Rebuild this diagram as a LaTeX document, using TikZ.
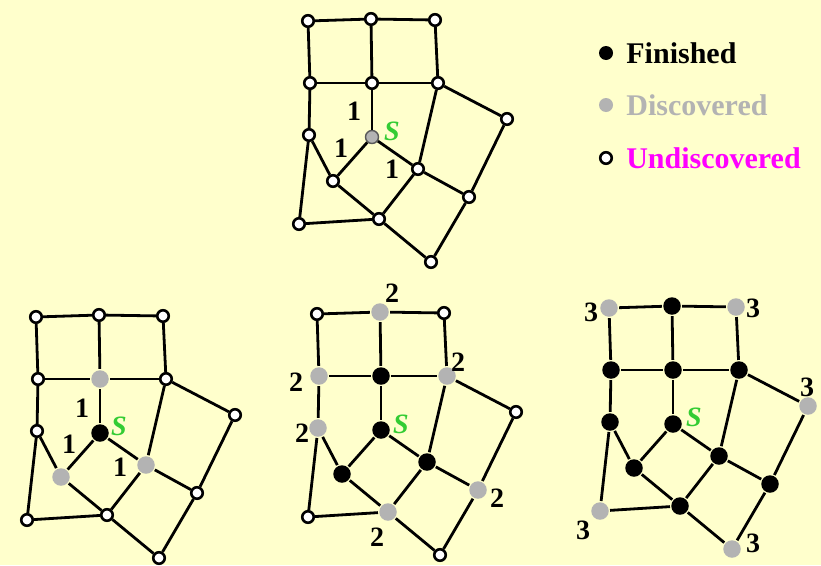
\documentclass[tikz,border=0pt]{standalone}
\usepackage{fontspec}
\setmainfont{Liberation Serif}
\usetikzlibrary{positioning}
\definecolor{paper}{HTML}{FFFFCC}
\definecolor{discgray}{HTML}{B3B3B3}
\definecolor{srcgreen}{HTML}{33CC33}
\definecolor{undmag}{HTML}{FF00FF}
\begin{document}
\begin{tikzpicture}[x=1pt,y=-1pt,
 und/.style={circle,draw=black,fill=white,line width=2.6pt,minimum size=11.5pt,inner sep=0pt},
 dis/.style={draw=none,fill=discgray,minimum size=17.5pt},
 fin/.style={draw=none,fill=black,minimum size=17.5pt},
 src/.style={draw=black!65,line width=1.4pt,fill=discgray,minimum size=13pt},
 edg/.style={line width=2.8pt},
 num/.style={font=\fontsize{28}{28}\selectfont\bfseries,inner sep=0pt},
 sname/.style={font=\fontsize{28}{28}\selectfont\bfseries\itshape,text=srcgreen,inner sep=0pt},
 leg/.style={font=\fontsize{30}{30}\selectfont\bfseries,inner sep=0pt},
 Ts/.style=src,
 As/.style=fin,Ae/.style=dis,Ai/.style=dis,Aj/.style=dis,
 Bs/.style=fin,Be/.style=fin,Bi/.style=fin,Bj/.style=fin,
 Bb/.style=dis,Bd/.style=dis,Bf/.style=dis,Bg/.style=dis,Bk/.style=dis,Bm/.style=dis,
 Cb/.style=fin,Cd/.style=fin,Ce/.style=fin,Cf/.style=fin,Cg/.style=fin,
 Cs/.style=fin,Ci/.style=fin,Cj/.style=fin,Ck/.style=fin,Cm/.style=fin,
 Ca/.style=dis,Cc/.style=dis,Ch/.style=dis,Cl/.style=dis,Cn/.style=dis]
\useasboundingbox (0,0) rectangle (821,565);
\fill[paper] (0,0) rectangle (821,565);
\foreach \g/\dx/\dy in {T/0/0,A/-272/296,B/9/293,C/301/287} {
 \begin{scope}[shift={(\dx,\dy)}]
 \foreach \n/\px/\py in {a/308/21,b/371/19,c/435/20,d/310/83,e/372/83,f/438/83,g/309/135,s/372/137,
  h/507/119,i/333/181,j/418/169,k/469/197,l/299/224,m/379/219,n/431/262}
  {\node[und,\g\n/.try] (\g\n) at (\px,\py) {};}
 \foreach \u/\v in {a/b,b/c,a/d,b/e,c/f,d/e,e/f,d/g,e/s,f/h,f/j,g/i,g/l,s/i,s/j,h/k,j/k,i/m,j/m,l/m,m/n,k/n}
  {\draw[edg] (\g\u) -- (\g\v);}
 \end{scope}
}
\node[num] (T1) at (354,111) {1};
\node[num] (T2) at (341,148) {1};
\node[num] (T3) at (392,169) {1};
\node[sname] (TS) at (392,131) {S};
\node[num] (A1) at (82,408) {1};
\node[num] (A2) at (69,444) {1};
\node[num] (A3) at (120,467) {1};
\node[sname] (AS) at (119,426) {S};
\node[num] (B1) at (392,293) {2};
\node[num] (B2) at (458,362) {2};
\node[num] (B3) at (296,382) {2};
\node[num] (B4) at (302,433) {2};
\node[num] (B5) at (497,498) {2};
\node[num] (B6) at (377,537) {2};
\node[sname] (BS) at (401,424) {S};
\node[num] (C1) at (591,312) {3};
\node[num] (C2) at (753,308) {3};
\node[num] (C3) at (807,387) {3};
\node[num] (C4) at (583,530) {3};
\node[num] (C5) at (753,543) {3};
\node[sname] (CS) at (694,417) {S};
\node[circle,fill=black,minimum size=14pt,inner sep=0pt] (legfin) at (606,53) {};
\node[leg,right=13pt of legfin] (legfintxt) {Finished};
\node[circle,fill=discgray,minimum size=14pt,inner sep=0pt] (legdis) at (606,105) {};
\node[leg,text=discgray,right=13pt of legdis] (legdistxt) {Discovered};
\node[und] (legund) at (606,158) {};
\node[leg,text=undmag,right=13pt of legund] (legundtxt) {Undiscovered};
\end{tikzpicture}
\end{document}
